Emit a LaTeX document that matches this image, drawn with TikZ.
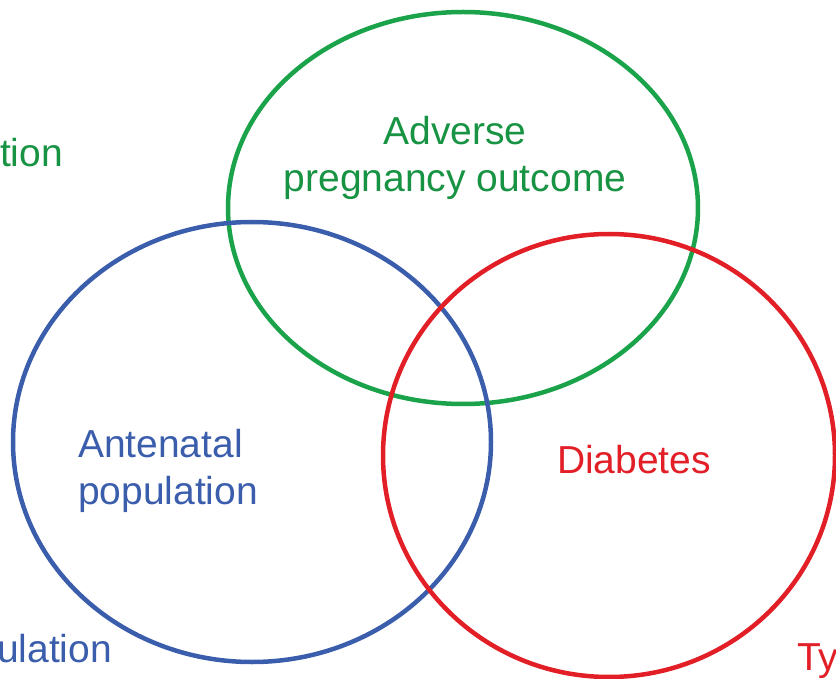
\documentclass[tikz,border=0pt]{standalone}
\usepackage{fontspec}
\setmainfont{Liberation Sans}
\usetikzlibrary{shapes.geometric}
\definecolor{outcomeGreen}{RGB}{26,163,74}
\definecolor{antenatalBlue}{RGB}{58,93,172}
\definecolor{diabetesRed}{RGB}{226,30,38}
\tikzset{
    vennSet/.style={ellipse, draw, line width=4.5pt, inner sep=0pt, outer sep=0pt}
}
\tikzset{
    vennLabel/.style={inner sep=0pt, outer sep=0pt, font=\fontsize{39}{47}\selectfont}
}

\begin{document}
\begin{tikzpicture}[x=1pt, y=-1pt]
		\useasboundingbox (0,0) rectangle (836,679);
		\node[vennSet, outcomeGreen, minimum width=470pt, minimum height=392pt] (outcomeSet) at (463,208) {};
		\node[vennSet, antenatalBlue, minimum width=478pt, minimum height=440pt] (antenatalSet) at (252,442) {};
		\node[vennSet, diabetesRed, minimum width=452pt, minimum height=443pt] (diabetesSet) at (609,455.5) {};

		\node[vennLabel, outcomeGreen!90!black, align=center] (outcomeText) at (455,158) {Adverse\\pregnancy outcome};
		\node[vennLabel, antenatalBlue, align=left, anchor=west] (antenatalText) at (78,471) {Antenatal\\population};
		\node[vennLabel, diabetesRed, anchor=base] (diabetesText) at (634,473) {Diabetes};

		\node[vennLabel, outcomeGreen!90!black, anchor=base east] (leftTopText) at (63,167) {tion};
		\node[vennLabel, antenatalBlue, anchor=base east] (leftBottomText) at (112,662) {ulation};
		\node[vennLabel, diabetesRed, anchor=base west] (rightBottomText) at (797,670) {Ty};
\end{tikzpicture}
\end{document}
